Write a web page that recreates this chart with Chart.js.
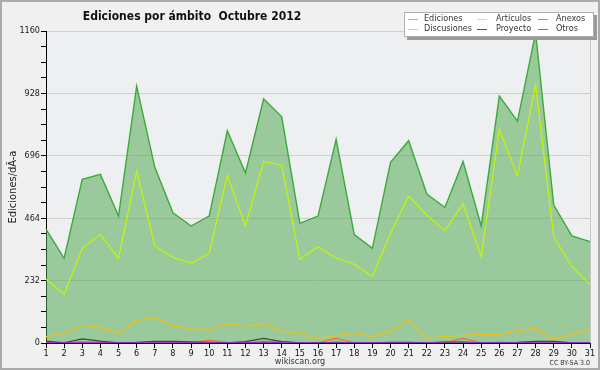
<!DOCTYPE html>
<html>
<head>
<meta charset="utf-8">
<script src="https://cdn.jsdelivr.net/npm/chart.js@4.4.1/dist/chart.umd.min.js"></script>
<style>
  html, body { margin: 0; padding: 0; background: #f0f0f0; }
  #wrap { width: 600px; height: 370px; }
</style>
</head>
<body>
<div id="wrap"><canvas id="chart" width="600" height="370"></canvas></div>
<script>
// Ediciones por ámbito, Octubre 2012 (wikiscan)
const days = ['1','2','3','4','5','6','7','8','9','10','11','12','13','14','15','16','17','18','19','20','21','22','23','24','25','26','27','28','29','30','31'];
const ediciones = [423, 315, 609, 627, 472, 955, 653, 484, 435, 472, 789, 632, 908, 841, 445, 472, 757, 403, 352, 672, 752, 554, 504, 675, 435, 918, 825, 1153, 513, 398, 377];
const articulos = [237, 181, 352, 404, 315, 639, 361, 319, 296, 333, 623, 435, 675, 662, 311, 358, 315, 293, 247, 408, 546, 476, 417, 517, 321, 794, 621, 959, 395, 284, 218];
const discusiones = [24, 36, 66, 58, 36, 84, 95, 63, 52, 52, 73, 63, 73, 45, 36, 16, 27, 36, 25, 42, 88, 17, 25, 28, 32, 32, 45, 55, 14, 32, 51];
const anexos = [2, 2, 4, 3, 1, 1, 1, 1, 2, 10, 2, 1, 3, 5, 1, 1, 17, 1, 1, 1, 1, 1, 1, 17, 1, 3, 1, 4, 4, 1, 1];
const proyecto = [7, 1, 15, 7, 1, 2, 6, 6, 4, 2, 1, 5, 17, 5, 1, 1, 2, 1, 1, 2, 2, 1, 1, 1, 1, 1, 2, 6, 6, 1, 1];
const otros = [1, 1, 1, 1, 1, 1, 1, 1, 1, 1, 1, 1, 4, 1, 1, 1, 1, 1, 1, 1, 1, 1, 4, 4, 1, 1, 1, 1, 1, 1, 1];
const yTicks = [0, 232, 464, 696, 928, 1160];

const FONT = '"DejaVu Sans Condensed", "DejaVu Sans", sans-serif';

// legend entries: [label, color]
const legendItems = [
  ['Ediciones', '#8fd08f'], ['Artículos', '#d4f040'], ['Anexos', '#ff7a40'],
  ['Discusiones', '#ffcc33'], ['Proyecto', '#555555'], ['Otros', '#9a55ee']
];

const decor = {
  id: 'decor',
  beforeDraw(chart) {
    const ctx = chart.ctx;
    const a = chart.chartArea;
    ctx.save();
    ctx.fillStyle = '#f0f0f0';
    ctx.fillRect(0, 0, chart.width, chart.height);
    ctx.fillStyle = '#eeeff1';
    ctx.fillRect(a.left, a.top, a.right - a.left, a.bottom - a.top);
    ctx.strokeStyle = '#c8c8c8';
    ctx.lineWidth = 1;
    ctx.beginPath();
    ctx.moveTo(a.right + 0.5, a.top);
    ctx.lineTo(a.right + 0.5, a.bottom);
    ctx.stroke();
    ctx.restore();
  },
  afterDraw(chart) {
    const ctx = chart.ctx;
    ctx.save();
    // title
    ctx.fillStyle = '#111';
    ctx.font = 'bold 12px ' + FONT;
    ctx.textAlign = 'center';
    ctx.textBaseline = 'alphabetic';
    ctx.fillText('Ediciones por ámbito  Octubre 2012', 192, 20);
    // y title
    ctx.save();
    ctx.translate(13, 187);
    ctx.rotate(-Math.PI / 2);
    ctx.font = '11px ' + FONT;
    ctx.fillStyle = '#222';
    ctx.textBaseline = 'middle';
    ctx.fillText('Ediciones/dÃ-a', 0, 0);
    ctx.restore();
    // footer
    ctx.font = '9px ' + FONT;
    ctx.fillStyle = '#333';
    ctx.fillText('wikiscan.org', 300, 364);
    ctx.font = '7px ' + FONT;
    ctx.textAlign = 'right';
    ctx.fillText('CC BY-SA 3.0', 590, 365);
    // legend box
    ctx.fillStyle = '#9a9a9a';
    ctx.fillRect(407, 15, 190, 25);
    ctx.fillStyle = '#ffffff';
    ctx.fillRect(404, 12, 190, 25);
    ctx.strokeStyle = '#b0b0b0';
    ctx.strokeRect(404.5, 12.5, 189, 24);
    const colX = [408, 477, 538];
    const textX = [424, 496, 556];
    const rowY = [19, 29];
    ctx.font = '9px ' + FONT;
    ctx.textAlign = 'left';
    ctx.textBaseline = 'middle';
    legendItems.forEach((it, i) => {
      const c = i % 3, r = Math.floor(i / 3);
      ctx.strokeStyle = it[1];
      ctx.lineWidth = 1;
      ctx.beginPath();
      ctx.moveTo(colX[c], rowY[r] + 0.5);
      ctx.lineTo(colX[c] + 10, rowY[r] + 0.5);
      ctx.stroke();
      ctx.fillStyle = '#333';
      ctx.fillText(it[0], textX[c], rowY[r]);
    });
    // outer frame
    ctx.strokeStyle = '#aaaaaa';
    ctx.lineWidth = 2;
    ctx.strokeRect(1, 1, chart.width - 2, chart.height - 2);
    ctx.restore();
  }
};

function line(data, color, order, width) {
  return {
    data: data,
    borderColor: color,
    borderWidth: width || 1.2,
    pointRadius: 0,
    fill: false,
    tension: 0,
    order: order
  };
}

const edSet = line(ediciones, '#3aaa3a', 6, 1.4);
edSet.fill = 'origin';
edSet.backgroundColor = 'rgba(80,170,80,0.53)';

new Chart(document.getElementById('chart'), {
  type: 'line',
  data: {
    labels: days,
    datasets: [
      edSet,
      line(articulos, '#c6f400', 5),
      line(discusiones, '#f2c010', 4),
      line(anexos, '#ff6a20', 3),
      line(proyecto, '#444444', 2),
      line(otros, '#8a2be2', 1)
    ]
  },
  options: {
    responsive: false,
    animation: false,
    layout: { padding: { top: 31, right: 10, left: 0, bottom: 0 } },
    plugins: { legend: { display: false }, tooltip: { enabled: false }, title: { display: false } },
    scales: {
      x: {
        offset: false,
        grid: { drawOnChartArea: false, tickColor: '#000', tickLength: 5 },
        border: { color: '#000', width: 1 },
        ticks: { autoSkip: false, maxRotation: 0, padding: 0, color: '#111', font: { family: FONT, size: 9 } },
        afterFit(scale) { scale.height = 27; }
      },
      y: {
        min: 0,
        max: 1160,
        grid: {
          color: c => yTicks.includes(c.tick.value) && c.tick.value !== 0 ? '#cfcfcf' : 'rgba(0,0,0,0)',
          tickColor: '#000',
          tickLength: 5
        },
        border: { color: '#000', width: 1 },
        ticks: {
          stepSize: 58,
          autoSkip: false,
          padding: 1,
          color: '#222',
          font: { family: FONT, size: 9 },
          callback: v => yTicks.includes(v) ? String(v) : ''
        },
        afterFit(scale) { scale.width = 46; }
      }
    }
  },
  plugins: [decor]
});
</script>
</body>
</html>
